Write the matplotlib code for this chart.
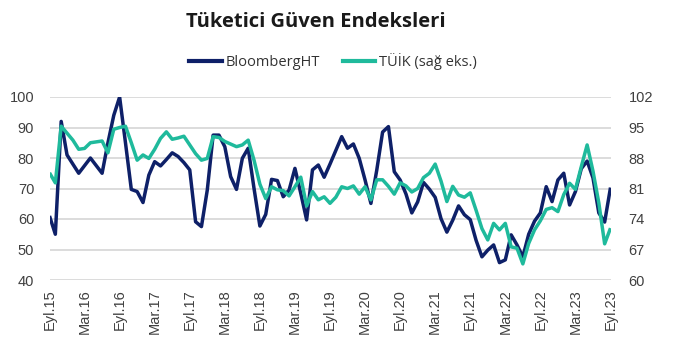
import matplotlib
matplotlib.use("Agg")
import matplotlib.pyplot as plt
import matplotlib.transforms as mtransforms
from matplotlib.lines import Line2D
import numpy as np

# Monthly data, Eyl.15 (Sep 2015) ... Eyl.23 (Sep 2023)
bloomberg_ht = [
    61, 55, 92, 81, 78, 75, 77.5, 80, 77.5, 75, 85, 94,
    100, 85, 69.7, 69, 65.4, 74.4, 78.8, 77.4, 79.5, 81.7, 80.5, 78.5,
    76.1, 59.1, 57.5, 69.5, 87.5, 87.5, 83.7, 73.9, 69.7, 79.9, 83.2, 70,
    57.7, 61.5, 73, 72.6, 67.3, 69.5, 76.6, 68.4, 59.7, 76.1, 77.7, 73.7,
    78, 82.5, 87, 83.2, 84.6, 79.9, 72.8, 65.1, 76, 88.5, 90.3, 75.5,
    72.8, 68.2, 62, 65.6, 72, 69.8, 67.1, 60.1, 55.7, 59.6, 64.3, 61.4,
    59.8, 53, 47.6, 49.8, 51.5, 45.7, 46.6, 54.8, 51.5, 47.6, 55, 59.3,
    62, 70.6, 65.7, 72.8, 75, 64.6, 69, 76.5, 79, 73.5, 62, 59,
    70.3,
]
tuik = [
    84.6, 82.3, 95.3, 93.7, 92.1, 90, 90.2, 91.5, 91.7, 91.9, 89.2, 94.6,
    95, 95.3, 91.5, 87.5, 88.7, 87.9, 90, 92.5, 94, 92.3, 92.6, 93,
    91, 89, 87.5, 87.9, 92.9, 92.7, 91.8, 91.2, 90.6, 91, 92.1, 87.5,
    82, 78.7, 81.4, 80.7, 80.5, 79.3, 81.4, 83.6, 77, 80.3, 78.4, 79.1,
    77.6, 79, 81.4, 81, 81.6, 79.7, 81.4, 78.4, 83, 83, 81.5, 79.7,
    82.3, 81.6, 80.2, 81, 83.5, 84.5, 86.6, 82.7, 78, 81.5, 79.5, 79,
    80, 76, 71.8, 69.2, 73, 71.5, 73, 67.6, 67.3, 63.7, 68.4, 71.5,
    73.6, 76.2, 76.6, 75.7, 79.6, 82.2, 80.8, 86, 91, 85, 77.7, 68.3,
    71.9,
]
tick_labels = ["Eyl.15", "Mar.16", "Eyl.16", "Mar.17", "Eyl.17", "Mar.18",
               "Eyl.18", "Mar.19", "Eyl.19", "Mar.20", "Eyl.20", "Mar.21",
               "Eyl.21", "Mar.22", "Eyl.22", "Mar.23", "Eyl.23"]
left_ticks = [40, 50, 60, 70, 80, 90, 100]
right_ticks = [60, 67, 74, 81, 88, 95, 102]

NAVY = "#0e2068"
TEAL = "#1fba9c"
GRID = "#d9d9d9"
TXT = "#404040"

W, H = 690, 356
fig = plt.figure(figsize=(W / 100, H / 100), dpi=100)
left_px, right_px, top_px, bot_px = 49.5, 610.5, 97, 280
ax = fig.add_axes([left_px / W, 1 - bot_px / H, (right_px - left_px) / W, (bot_px - top_px) / H])
ax2 = ax.twinx()

x = np.arange(len(bloomberg_ht))
ax.plot(x, bloomberg_ht, color=NAVY, lw=2.5, solid_joinstyle="round", solid_capstyle="butt", zorder=3)
ax2.plot(x, tuik, color=TEAL, lw=2.5, solid_joinstyle="round", solid_capstyle="butt", zorder=3)

ax.set_xlim(0, len(x) - 1)
ax.set_ylim(40, 100)
ax2.set_ylim(60, 102)
ax.set_yticks(left_ticks)
ax2.set_yticks(right_ticks)
ax.set_xticks(np.arange(0, len(x), 6))
ax.set_xticklabels(tick_labels, rotation=90, fontsize=10.5, family="Liberation Sans", color=TXT)
offset = mtransforms.ScaledTranslation(3.5 / 100, 0, fig.dpi_scale_trans)
for lab in ax.get_xticklabels():
    lab.set_transform(lab.get_transform() + offset)

ax.grid(axis="y", color=GRID, lw=1.3)
ax.set_axisbelow(True)
for a in (ax, ax2):
    for s in a.spines.values():
        s.set_visible(False)
    a.tick_params(length=0)
ax.tick_params(axis="y", pad=11, labelsize=10.5, labelcolor=TXT)
ax.tick_params(axis="x", pad=6.5)
ax2.tick_params(axis="y", pad=13, labelsize=10.5, labelcolor=TXT)
for lab in ax.get_yticklabels() + ax2.get_yticklabels():
    lab.set_family("Liberation Sans")

fig.text(316 / W, 1 - 22 / H, "Tüketici Güven Endeksleri", ha="center", va="center",
         fontsize=14.5, fontweight="bold", family="Open Sans", color="#1a1a1a")

handles = [Line2D([], [], color=NAVY, lw=3), Line2D([], [], color=TEAL, lw=3)]
fig.legend(handles, ["BloombergHT", "TÜİK (sağ eks.)"], loc="center",
           bbox_to_anchor=(333 / W, 1 - 62 / H), ncol=2, frameon=False,
           prop={"family": "Open Sans", "size": 10.5}, labelcolor="#333333",
           handlelength=2.2, handletextpad=0.25, columnspacing=1.6)

fig.savefig("out.png", dpi=100)
